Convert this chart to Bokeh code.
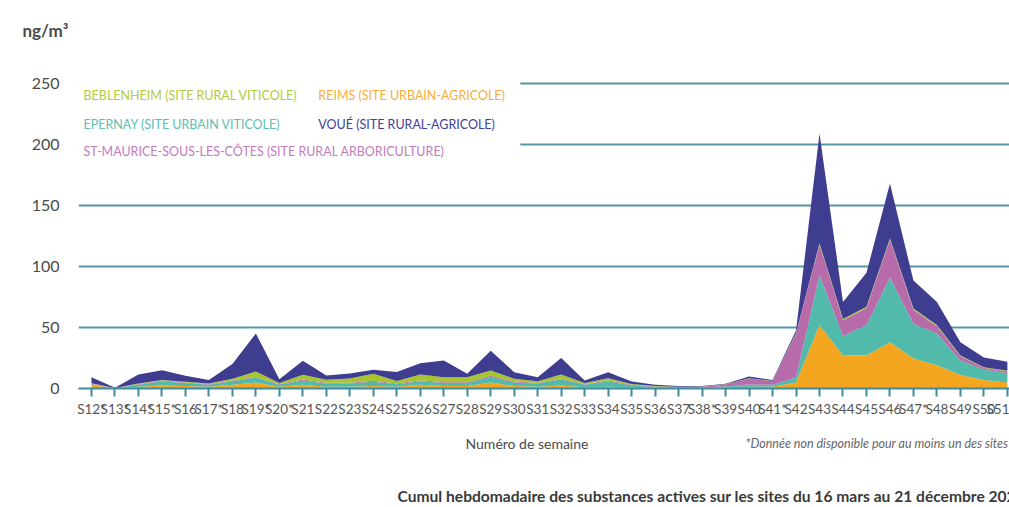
from bokeh.plotting import figure
from bokeh.layouts import column
from bokeh.models import ColumnDataSource, Range1d, FixedTicker, Label, BoxAnnotation
from bokeh.embed import file_html
from bokeh.resources import INLINE

weeks = ["S12*", "S13*", "S14*", "S15*", "S16", "S17*", "S18", "S19*", "S20*", "S21",
         "S22", "S23", "S24", "S25", "S26", "S27", "S28", "S29", "S30", "S31",
         "S32", "S33", "S34", "S35", "S36", "S37", "S38*", "S39", "S40", "S41*",
         "S42", "S43", "S44", "S45", "S46", "S47*", "S48", "S49", "S50", "S51"]

reims = [3, 0.2, 1.5, 2.5, 2, 1.5, 3, 5, 1.5, 3,
         1.5, 1.5, 2, 1.5, 3, 2, 2, 5, 2, 1.5,
         2.5, 1, 1.5, 1, 0.7, 0.5, 0.5, 1, 1.5, 1.5,
         5, 52, 27, 27, 38, 24.5, 19, 11, 7, 5]
epernay = [0.5, 0.1, 1.5, 3.5, 2.5, 1.5, 3, 4, 1.5, 3.5,
           2.5, 2.5, 3.5, 2, 3, 2.5, 2.5, 4.5, 3, 2.5,
           5, 2, 4.5, 1.5, 0.7, 0.5, 0.5, 0.7, 1.7, 1.5,
           4, 41, 16, 25, 53, 28.5, 26, 12, 8.5, 7.5]
st_maurice = [0.3, 0.1, 0.5, 0.5, 0.5, 0.5, 0.5, 0.5, 0.5, 0.8,
              0.7, 0.7, 0.8, 0.7, 0.7, 0.7, 0.7, 1, 0.7, 0.5,
              0.8, 0.5, 0.5, 0.5, 0.3, 0.3, 0.5, 1.5, 5, 3,
              36, 25, 13, 14, 31, 11.5, 6, 3.5, 1.5, 1.5]
beblenheim = [0.5, 0.1, 0.5, 0.5, 0.5, 0.5, 1.5, 4.5, 1, 4,
              2.5, 3.5, 5.7, 2, 4.8, 4, 4, 4.3, 2.3, 1.5,
              3.2, 1, 2, 0.7, 0.3, 0.2, 0.2, 0.2, 0.3, 0.2,
              0.5, 1, 1, 1, 1, 1, 1, 0.5, 0.5, 0.5]
voue = [5, 0.1, 7.5, 8, 5, 3, 12, 31, 3, 11.5,
        3.5, 4, 3.3, 7.3, 9.2, 13.7, 2.8, 16.2, 5.4, 3.3,
        13.5, 2, 4.9, 2, 1, 0.5, 0.3, 0.4, 1.3, 0.8,
        2, 90, 14, 28, 45, 23, 19, 11, 8, 7.5]

y_ticks = [0, 50, 100, 150, 200, 250]

series_names = ["reims", "epernay", "st_maurice", "beblenheim", "voue"]
series_colors = ["#F4A621", "#52BAAA", "#B86BAB", "#A6C52E", "#3F3D8F"]

source = ColumnDataSource(dict(
    x=list(range(len(weeks))),
    reims=reims, epernay=epernay, st_maurice=st_maurice,
    beblenheim=beblenheim, voue=voue,
))

TEAL = "#3E8C9E"
GRAY = "#4A4A4A"
FONT = "Lato"
W = 1009
LEFT = 78

# main chart
p = figure(width=W, height=428, output_backend="svg", toolbar_location=None,
           x_range=Range1d(-0.553, 39.09), y_range=Range1d(0, 255),
           min_border_left=LEFT, min_border_right=0, min_border_top=77,
           min_border_bottom=40, title="ng/m³\n\u00a0")
p.outline_line_color = None
p.background_fill_color = "white"

p.title.align = "left"
p.title.offset = -56
p.title.standoff = 32
p.title.text_font = FONT
p.title.text_font_size = "17px"
p.title.text_font_style = "bold"
p.title.text_color = GRAY

p.varea_stack(stackers=series_names, x="x", color=series_colors, source=source)

p.xgrid.grid_line_color = None
p.ygrid.grid_line_color = TEAL
p.ygrid.grid_line_width = 2
p.ygrid.grid_line_alpha = 0.9

p.yaxis.ticker = FixedTicker(ticks=y_ticks)
p.yaxis.axis_line_color = None
p.yaxis.major_tick_line_color = None
p.yaxis.minor_tick_line_color = None
p.yaxis.major_label_text_font = FONT
p.yaxis.major_label_text_font_size = "16px"
p.yaxis.major_label_text_color = GRAY
p.yaxis.major_label_standoff = 13

p.xaxis.ticker = FixedTicker(ticks=list(range(len(weeks))))
p.xaxis.major_label_overrides = {i: w for i, w in enumerate(weeks)}
p.xaxis.axis_line_color = TEAL
p.xaxis.axis_line_width = 2
p.xaxis.major_tick_line_color = TEAL
p.xaxis.major_tick_line_width = 2
p.xaxis.major_tick_in = 0
p.xaxis.major_tick_out = 8
p.xaxis.minor_tick_line_color = None
p.xaxis.major_label_text_font = FONT
p.xaxis.major_label_text_font_size = "13.5px"
p.xaxis.major_label_text_color = "#555555"
p.xaxis.major_label_standoff = 4

# white box behind the legend
p.add_layout(BoxAnnotation(left=-0.6, right=18.26, bottom=187, top=260,
                           fill_color="white", fill_alpha=1, line_color=None))

legend_items = [
    ("BEBLENHEIM (SITE RURAL VITICOLE)", "#B2CB3C", -0.34, 240.2),
    ("REIMS (SITE URBAIN-AGRICOLE)", "#F5AE3C", 9.66, 240.2),
    ("EPERNAY (SITE URBAIN VITICOLE)", "#5CC0B3", -0.34, 216.4),
    ("VOUÉ (SITE RURAL-AGRICOLE)", "#40409A", 9.66, 216.4),
    ("ST-MAURICE-SOUS-LES-CÔTES (SITE RURAL ARBORICULTURE)", "#C27BBE", -0.34, 194.3),
]
for txt, col, lx, ly in legend_items:
    p.add_layout(Label(x=lx, y=ly, text=txt, text_color=col, text_font=FONT,
                       text_font_size="12.5px", text_baseline="middle",
                       text_align="left"))

# bottom strip with the axis title, note and caption (x in page pixels)
bottom = figure(width=W, height=79, output_backend="svg", toolbar_location=None,
                x_range=Range1d(LEFT, W), y_range=Range1d(0, 79),
                x_axis_type=None, y_axis_type=None,
                min_border_left=LEFT, min_border_right=0, min_border_top=0,
                min_border_bottom=0)
bottom.outline_line_color = None
bottom.xgrid.grid_line_color = None
bottom.ygrid.grid_line_color = None

bottom.add_layout(Label(x=465, y=64, text="Numéro de semaine", text_color=GRAY,
                        text_font=FONT, text_font_size="14px", text_baseline="middle",
                        text_align="left"))
bottom.add_layout(Label(x=745, y=64,
                        text="*Donnée non disponible pour au moins un des sites",
                        text_color="#666666", text_font=FONT, text_font_size="12.5px",
                        text_font_style="italic", text_baseline="middle",
                        text_align="left"))
bottom.add_layout(Label(x=397, y=12,
                        text="Cumul hebdomadaire des substances actives sur les sites du 16 mars au 21 décembre 2020",
                        text_color="#3A3A3A", text_font=FONT, text_font_size="15.6px",
                        text_font_style="bold", text_baseline="middle",
                        text_align="left"))

layout = column(p, bottom, spacing=0)
open("out.html", "w").write(file_html(layout, INLINE))
